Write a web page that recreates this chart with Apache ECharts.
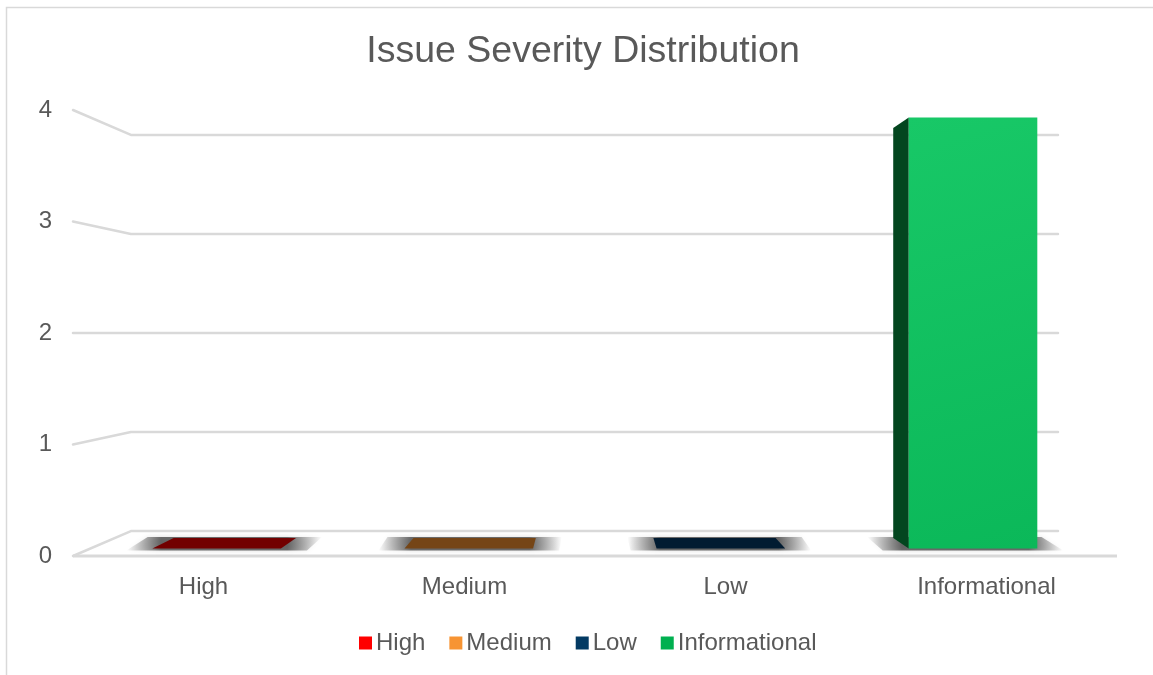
<!DOCTYPE html>
<html>
<head>
<meta charset="utf-8">
<script src="https://cdn.jsdelivr.net/npm/echarts@6/dist/echarts.min.js"></script>
<style>html,body{margin:0;padding:0;background:#fff;}#c{width:1153px;height:675px;}</style>
</head>
<body>
<div id="c"></div>
<script>
// ---- data ----
const CATEGORIES = ['High', 'Medium', 'Low', 'Informational'];
const VALUES = [0, 0, 0, 4];
const Y_TICKS = [0, 1, 2, 3, 4];
const TITLE = 'Issue Severity Distribution';

// ---- styles ----
const LEGEND_COLORS = ['#ff0000', '#f79433', '#033a63', '#00b050'];
const FRONT_TOP = ['#e80000', '#f4912f', '#04446f', '#18c867'];
const FRONT_BOTTOM = ['#d40000', '#e7841f', '#033a63', '#0bb859'];
const TOP_COLORS = ['#720000', '#754516', '#011b31', '#0a7a3c'];
const SIDE_COLORS = ['#5a0000', '#5c350f', '#01101e', '#03461f'];
const GRID_COLOR = '#d9d9d9';
const TEXT_COLOR = '#595959';
const FONT = 'Liberation Sans, Arial, sans-serif';
const EYE_LEVEL = 2;      // value at which the wall lines are horizontal
const S_BACK = 0.888;     // perspective scale of the back wall
const S_BAR_FRONT = 0.966;
const S_BAR_BACK = 0.919;
const BAR_RATIO = 0.51;
const VP_SHIFT = -5;

function vp(api) {
  const band = api.size([1, 0])[0];
  const left = api.coord([0, 0])[0] - band / 2;
  const right = api.coord([CATEGORIES.length - 1, 0])[0] + band / 2;
  return [(left + right) / 2 + VP_SHIFT, api.coord([0, EYE_LEVEL])[1], left, right, band];
}
function persp(v, p, s) {
  return [v[0] + (p[0] - v[0]) * s, v[1] + (p[1] - v[1]) * s];
}

const chart = echarts.init(document.getElementById('c'));

const wallSeries = {
  type: 'custom',
  name: 'walls',
  silent: true,
  clip: false,
  z: 1,
  data: Y_TICKS.map(v => [0, v]),
  encode: { x: 0, y: 1 },
  renderItem: function (params, api) {
    const V = vp(api);
    const v = api.value(1);
    const y = api.coord([0, v])[1];
    const fl = [V[2], y], fr = [V[3], y];
    const bl = persp(V, fl, S_BACK), br = persp(V, fr, S_BACK);
    const children = [{
      type: 'polyline',
      shape: { points: [fl, bl, br] },
      style: { stroke: GRID_COLOR, lineWidth: 2.5, fill: null, lineJoin: 'round', lineCap: 'round' }
    }];
    if (v === 0) {
      children.push({
        type: 'line',
        shape: { x1: fl[0], y1: fl[1], x2: fr[0], y2: fr[1] },
        style: { stroke: GRID_COLOR, lineWidth: 3 }
      });
    }
    return { type: 'group', children: children };
  }
};

function barSeries(i) {
  return {
    type: 'custom',
    name: CATEGORIES[i],
    clip: false,
    z: 2,
    itemStyle: { color: LEGEND_COLORS[i] },
    data: [[i, VALUES[i]]],
    encode: { x: 0, y: 1 },
    renderItem: function (params, api) {
      const V = vp(api);
      const idx = api.value(0), val = api.value(1);
      const cx = api.coord([idx, 0])[0];
      const half = V[4] * BAR_RATIO / 2;
      const yb = api.coord([idx, 0])[1];
      const yt = api.coord([idx, val])[1];
      const F = p => persp(V, p, S_BAR_FRONT);
      const B = p => persp(V, p, S_BAR_BACK);
      const fTL = F([cx - half, yt]), fTR = F([cx + half, yt]), fBR = F([cx + half, yb]), fBL = F([cx - half, yb]);
      const bTL = B([cx - half, yt]), bTR = B([cx + half, yt]), bBR = B([cx + half, yb]), bBL = B([cx - half, yb]);
      const children = [];
      // soft floor shadow: horizontal fade on both sides
      const sp = 26;
      const shadowPts = [[fBL[0] - sp, fBL[1] + 2], [fBR[0] + sp, fBR[1] + 2], [bBR[0] + sp, bBR[1] - 1], [bBL[0] - sp, bBL[1] - 1]];
      const w = shadowPts[1][0] - shadowPts[0][0];
      const e = (sp + 6) / w;
      children.push({
        type: 'polygon',
        shape: { points: shadowPts },
        style: {
          fill: { type: 'linear', x: 0, y: 0, x2: 1, y2: 0, colorStops: [
            { offset: 0, color: 'rgba(0,0,0,0)' },
            { offset: e, color: 'rgba(0,0,0,0.55)' },
            { offset: 1 - e, color: 'rgba(0,0,0,0.55)' },
            { offset: 1, color: 'rgba(0,0,0,0)' }
          ] },
          shadowBlur: 5, shadowColor: 'rgba(0,0,0,0.25)'
        }
      });
      if (val > 0) {
        const right = cx > V[0];
        const side = right ? [fTL, bTL, bBL, fBL] : [fTR, bTR, bBR, fBR];
        children.push({ type: 'polygon', shape: { points: side }, style: { fill: SIDE_COLORS[i] } });
        if (yt > V[1]) {
          children.push({ type: 'polygon', shape: { points: [fTL, fTR, bTR, bTL] }, style: { fill: TOP_COLORS[i] } });
        }
        children.push({
          type: 'polygon',
          shape: { points: [fTL, fTR, fBR, fBL] },
          style: {
            fill: { type: 'linear', x: 0, y: 0, x2: 1, y2: 1, colorStops: [{ offset: 0, color: FRONT_TOP[i] }, { offset: 1, color: FRONT_BOTTOM[i] }] }
          }
        });
      } else {
        children.push({
          type: 'polygon',
          shape: { points: [fBL, fBR, bBR, bBL] },
          style: { fill: TOP_COLORS[i] }
        });
      }
      return { type: 'group', children: children };
    }
  };
}

const option = {
  backgroundColor: '#ffffff',
  animation: false,
  title: {
    text: TITLE,
    left: 578,
    textAlign: 'center',
    top: 28,
    textStyle: { fontFamily: FONT, fontSize: 37.5, fontWeight: 'normal', color: TEXT_COLOR }
  },
  legend: {
    data: CATEGORIES,
    left: 354,
    top: 626,
    icon: 'rect',
    itemWidth: 13,
    itemHeight: 13,
    itemGap: 24,
    textStyle: { fontFamily: FONT, fontSize: 24, color: TEXT_COLOR, padding: [0, 0, 0, -1] }
  },
  grid: { left: 73, right: 36, top: 110, bottom: 119, containLabel: false },
  xAxis: {
    type: 'category',
    data: CATEGORIES,
    axisLine: { show: false },
    axisTick: { show: false },
    splitLine: { show: false },
    axisLabel: { margin: 19, fontFamily: FONT, fontSize: 24, color: TEXT_COLOR }
  },
  yAxis: {
    type: 'value',
    min: 0,
    max: 4,
    interval: 1,
    axisLine: { show: false },
    axisTick: { show: false },
    splitLine: { show: false },
    axisLabel: { margin: 21, fontFamily: FONT, fontSize: 24, color: TEXT_COLOR, padding: [7, 0, 0, 0] }
  },
  graphic: [{
    type: 'rect',
    silent: true,
    shape: { x: 6.5, y: 7.5, width: 3000, height: 3000 },
    style: { fill: null, stroke: GRID_COLOR, lineWidth: 1.5 }
  }],
  series: [wallSeries].concat(CATEGORIES.map((c, i) => barSeries(i)))
};
chart.setOption(option);
</script>
</body>
</html>
